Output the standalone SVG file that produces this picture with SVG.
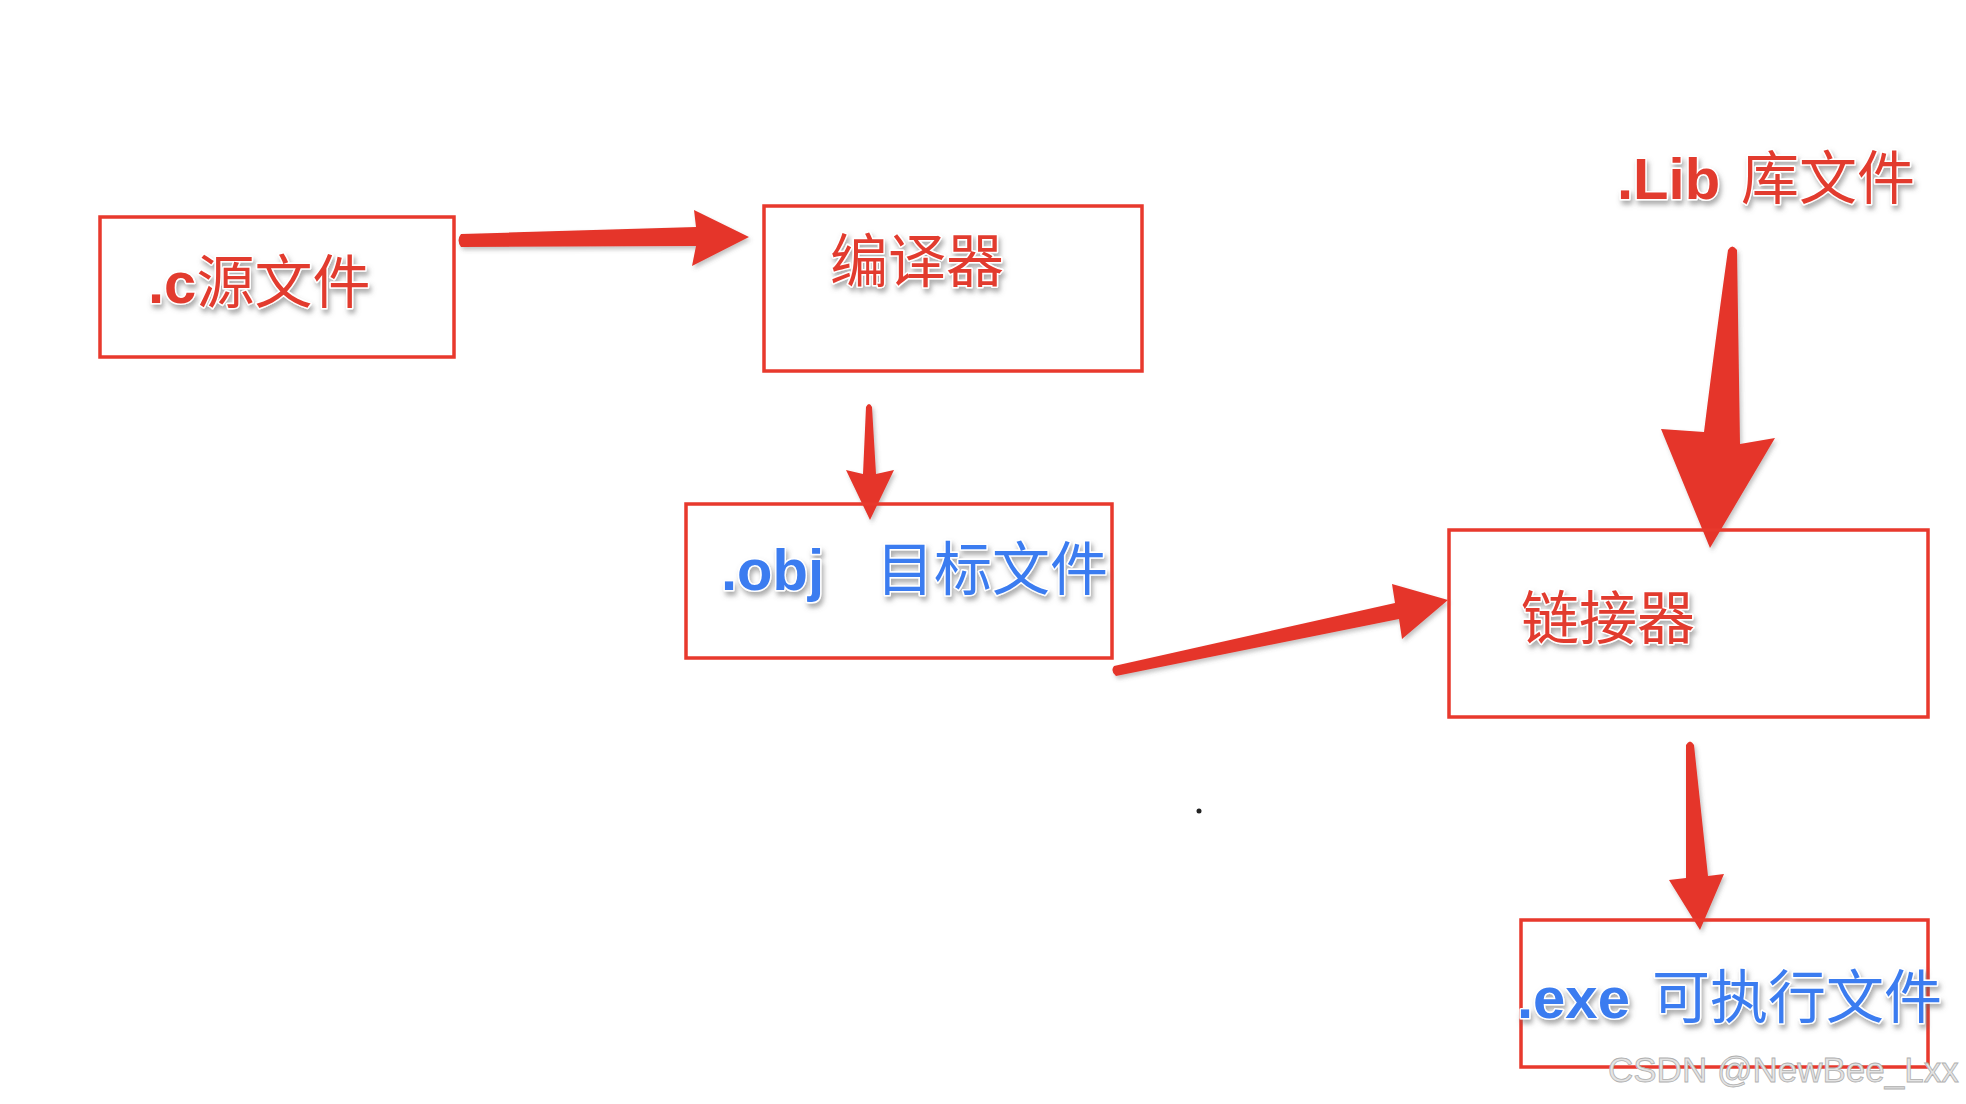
<svg xmlns="http://www.w3.org/2000/svg" width="1966" height="1104" viewBox="0 0 1966 1104">
  <defs>
    <filter id="tshadow" x="-10%" y="-30%" width="120%" height="160%">
      <feDropShadow dx="2" dy="4" stdDeviation="2.5" flood-color="#666" flood-opacity="0.55"/>
    </filter>
    <filter id="ashadow" x="-10%" y="-10%" width="120%" height="130%">
      <feDropShadow dx="2" dy="3" stdDeviation="2" flood-color="#555" flood-opacity="0.35"/>
    </filter>
    <style>
      .box { fill: none; stroke: #e8392d; stroke-width: 3.5; }
      .lbl { font-size: 58px; paint-order: stroke; stroke: #fff; stroke-width: 3; stroke-linejoin: round; filter: url(#tshadow); }
      .red { fill: #e23a2e; }
      .blue { fill: #3a7bf0; }
      .lat { font-family: "Liberation Sans", Arial, sans-serif; font-weight: bold; }
      .cjk { font-family: "Noto Sans CJK SC", "Noto Sans", sans-serif; font-weight: 400; }
      .arrow { fill: #e5352a; filter: url(#ashadow); }
      .wm { font-family: "Liberation Sans", Arial, sans-serif; font-size: 35px; fill: #e4e4e4; stroke: #b0b0b0; stroke-width: 0.8; }
    </style>
  </defs>
  <rect width="1966" height="1104" fill="#fff"/>

  <g id="connectors">
    <path class="arrow" d="M461,234 L696,227 L694,210 L749,237 L692,266 L696,246 L461,247 Q456,240 461,234 Z"/>
    <path class="arrow" d="M866,407 Q869,401 872,407 L876,474 L894,470 L870,520 L846,470 L863,474 Z"/>
    <path class="arrow" d="M1114,666 L1395,603 L1392,584 L1448,600 L1402,639 L1399,619 L1116,676 Q1110,671 1114,666 Z"/>
    <path class="arrow" d="M1728,250 Q1732,243 1737,250 L1740,444 L1775,438 L1710,548 L1661,429 L1704,432 Q1718,320 1728,250 Z"/>
    <path class="arrow" d="M1686,745 Q1690,738 1694,745 L1708,876 L1724,874 L1700,930 L1669,880 L1686,878 Z"/>
  </g>

  <g id="node-c-source">
    <rect class="box" x="100" y="217" width="354" height="140"/>
    <text class="lbl red" x="148" y="303"><tspan class="lat">.c</tspan><tspan class="cjk">源文件</tspan></text>
  </g>

  <g id="node-compiler">
    <rect class="box" x="764" y="206" width="378" height="165"/>
    <text class="lbl red cjk" x="830" y="282">编译器</text>
  </g>

  <g id="node-obj">
    <rect class="box" x="686" y="504" width="426" height="154"/>
    <text class="lbl blue" y="590"><tspan class="lat" x="721">.obj</tspan><tspan class="cjk" x="876">目标文件</tspan></text>
  </g>

  <g id="node-lib">
    <text class="lbl red" y="199"><tspan class="lat" x="1617">.Lib</tspan><tspan class="cjk" x="1741">库文件</tspan></text>
  </g>

  <g id="node-linker">
    <rect class="box" x="1449" y="530" width="479" height="187"/>
    <text class="lbl red cjk" x="1521" y="639">链接器</text>
  </g>

  <g id="node-exe">
    <rect class="box" x="1521" y="920" width="407" height="147"/>
    <text class="lbl blue" y="1018"><tspan class="lat" x="1517">.exe</tspan><tspan class="cjk" x="1652">可执行文件</tspan></text>
  </g>

  <circle cx="1199" cy="811" r="2.5" fill="#222"/>

  <text class="wm" x="1608" y="1082">CSDN @NewBee_Lxx</text>
</svg>
